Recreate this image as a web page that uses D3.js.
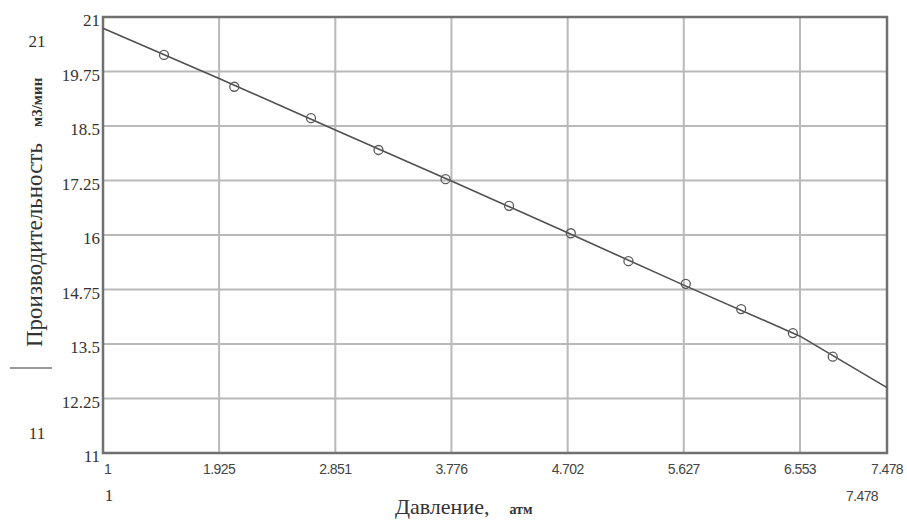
<!DOCTYPE html>
<html>
<head>
<meta charset="utf-8">
<script src="https://cdn.jsdelivr.net/npm/d3@7"></script>
<style>
  html, body { margin: 0; padding: 0; background: #fff; }
  svg { display: block; }
  .tick-y { font-family: 'Liberation Serif', serif; font-size: 17px; fill: #333; }
  .tick-x { font-family: 'Liberation Sans', sans-serif; font-size: 14px; fill: #444; letter-spacing: -0.6px; }
</style>
</head>
<body>
<svg id="chart" width="907" height="520" viewBox="0 0 907 520"></svg>
<script>
'use strict';

/* global d3 */

// measured points (circles)
var pressure = [1.486, 2.046, 2.657, 3.195, 3.729, 4.235, 4.727, 5.186, 5.643, 6.084, 6.496, 6.901];
var output = [20.13, 19.40, 18.68, 17.95, 17.28, 16.67, 16.04, 15.40, 14.88, 14.30, 13.75, 13.21];

// fitted curve read at grid positions
var curveX = [1, 1.925, 2.851, 3.776, 4.702, 5.627, 6.553, 7.478];
var curveY = [20.74, 19.59, 18.41, 17.24, 16.05, 14.85, 13.68, 12.50];

var xTicks = [1, 1.925, 2.851, 3.776, 4.702, 5.627, 6.553, 7.478];
var xTickLabels = ['1', '1.925', '2.851', '3.776', '4.702', '5.627', '6.553', '7.478'];
var yTicks = [21, 19.75, 18.5, 17.25, 16, 14.75, 13.5, 12.25, 11];
var yTickLabels = ['21', '19.75', '18.5', '17.25', '16', '14.75', '13.5', '12.25', '11'];

(function () {
  var svg = d3.select('#chart');
  var margins = { top: 17, right: 20, bottom: 67, left: 103 };
  var width = 907 - margins.left - margins.right;
  var height = 520 - margins.top - margins.bottom;

  var g = svg.append('g').attr('transform', 'translate(' + margins.left + ',' + margins.top + ')');

  // the picture squeezes the last grid column a bit
  var x = d3.scaleLinear().domain([1, 6.553, 7.478]).range([0, 697, width]);
  var y = d3.scaleLinear().domain([11, 21]).range([height, 0]);

  // grid
  g.append('g').selectAll('line').data(yTicks.slice(1, -1)).enter().append('line')
    .attr('x1', 0).attr('x2', width)
    .attr('y1', function (d) { return y(d); })
    .attr('y2', function (d) { return y(d); })
    .attr('stroke', '#b9b9b9').attr('stroke-width', 2);

  g.append('g').selectAll('line').data(xTicks.slice(1, -1)).enter().append('line')
    .attr('y1', 0).attr('y2', height)
    .attr('x1', function (d) { return x(d); })
    .attr('x2', function (d) { return x(d); })
    .attr('stroke', '#b9b9b9').attr('stroke-width', 2);

  // frame
  g.append('rect').attr('x', 0).attr('y', 0).attr('width', width).attr('height', height)
    .attr('fill', 'none').attr('stroke', '#707070').attr('stroke-width', 2.5);

  // curve
  var line = d3.line()
    .x(function (d, i) { return x(curveX[i]); })
    .y(function (d) { return y(d); });

  g.append('path').datum(curveY).attr('d', line)
    .attr('fill', 'none').attr('stroke', '#505050').attr('stroke-width', 1.6)
    .attr('stroke-linejoin', 'round');

  g.append('g').selectAll('circle').data(output).enter().append('circle')
    .attr('cx', function (d, i) { return x(pressure[i]); })
    .attr('cy', function (d) { return y(d); })
    .attr('r', 4.5)
    .attr('fill', 'none').attr('stroke', '#5a5a5a').attr('stroke-width', 1.3);

  // y tick labels
  g.append('g').selectAll('text').data(yTicks).enter().append('text')
    .attr('class', 'tick-y')
    .attr('x', -3)
    .attr('y', function (d) { return y(d) + 9; })
    .attr('text-anchor', 'end')
    .text(function (d, i) { return yTickLabels[i]; });

  // x tick labels
  g.append('g').selectAll('text').data(xTicks).enter().append('text')
    .attr('class', 'tick-x')
    .attr('x', function (d, i) { return i === 0 ? x(d) + 1 : x(d); })
    .attr('y', height + 21)
    .attr('text-anchor', function (d, i) { return i === 0 ? 'start' : 'middle'; })
    .text(function (d, i) { return xTickLabels[i]; });

  // range labels outside the plot
  svg.append('text').attr('class', 'tick-y').attr('x', 37).attr('y', 47)
    .attr('text-anchor', 'middle').text(yTickLabels[0]);
  svg.append('text').attr('class', 'tick-y').attr('x', 37).attr('y', 439)
    .attr('text-anchor', 'middle').text(yTickLabels[yTickLabels.length - 1]);
  svg.append('text').attr('class', 'tick-y').attr('x', 109).attr('y', 501)
    .attr('text-anchor', 'middle').text(xTickLabels[0]);
  svg.append('text').attr('class', 'tick-x').attr('x', 862).attr('y', 501)
    .attr('text-anchor', 'middle').text(xTickLabels[xTickLabels.length - 1]);

  // y title
  var yt = svg.append('text')
    .attr('transform', 'translate(42,347) rotate(-90)')
    .attr('font-family', 'Liberation Serif, serif')
    .attr('fill', '#333');
  yt.append('tspan').attr('font-size', 23).text('Производительность');
  yt.append('tspan').attr('font-size', 15).attr('dx', 16).attr('font-weight', 'bold').text('м3/мин');

  // legend trace sample
  svg.append('line').attr('x1', 10).attr('x2', 52).attr('y1', 368).attr('y2', 368)
    .attr('stroke', '#777').attr('stroke-width', 1.5);

  // x title
  var xt = svg.append('text')
    .attr('x', 395).attr('y', 514)
    .attr('font-family', 'Liberation Serif, serif')
    .attr('fill', '#333');
  xt.append('tspan').attr('font-size', 22).text('Давление,');
  xt.append('tspan').attr('font-size', 14).attr('font-weight', 'bold').attr('dx', 20).text('атм');
})();
</script>
</body>
</html>
